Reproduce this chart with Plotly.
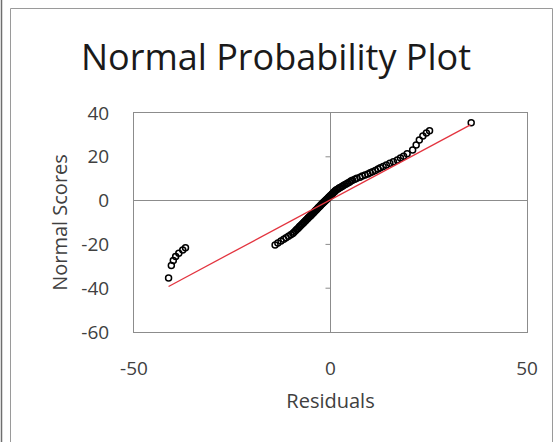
import plotly.graph_objects as go

# Residuals (x) and their normal scores (y), sorted ascending
residuals = [
    -41.2, -40.5, -40.0, -39.4, -38.6, -37.6, -36.9,
    -14.1, -13.4, -12.6, -11.9, -11.3, -10.7, -10.1, -9.6, -9.3, -8.9,
    -8.6, -8.3, -8.0, -7.8, -7.5, -7.2, -6.9, -6.7, -6.4, -6.2, -5.9,
    -5.7, -5.5, -5.2, -5.0, -4.8, -4.6, -4.4, -4.2, -4.0, -3.8, -3.6,
    -3.4, -3.2, -3.0, -2.8, -2.6, -2.4, -2.2, -2.0, -1.8, -1.6, -1.4,
    -1.2, -1.0, -0.8, -0.6, -0.4, -0.2, 0.0, 0.3, 0.4, 0.6, 0.8, 1.1,
    1.2, 1.5, 1.9, 2.2, 2.5, 2.9, 3.2, 3.6, 4.0, 4.4, 4.8, 5.2, 5.6,
    6.2, 6.7, 7.5, 8.1, 8.8, 9.5, 10.1, 10.7, 11.4, 12.1, 12.7, 13.4,
    14.2, 15.1, 16.0, 17.0, 17.8, 18.6, 19.5,
    20.9, 21.8, 22.6, 23.5, 24.4, 25.2, 35.8,
]
normal_scores = [
    -35.3, -29.6, -27.4, -25.5, -24.0, -22.5, -21.5,
    -20.3, -19.4, -18.5, -17.7, -17.0, -16.3, -15.6, -15.0, -14.4, -13.8,
    -13.2, -12.7, -12.2, -11.7, -11.2, -10.7, -10.2, -9.8, -9.3, -8.9, -8.4,
    -8.0, -7.6, -7.2, -6.8, -6.4, -6.0, -5.7, -5.3, -4.9, -4.5, -4.2,
    -3.8, -3.4, -3.0, -2.7, -2.3, -1.9, -1.6, -1.2, -0.9, -0.5, -0.2,
    0.2, 0.5, 0.9, 1.2, 1.6, 1.9, 2.3, 2.7, 3.0, 3.4, 3.8, 4.2,
    4.5, 4.9, 5.3, 5.7, 6.0, 6.4, 6.8, 7.2, 7.6, 8.0, 8.4, 8.9, 9.3,
    9.8, 10.2, 10.7, 11.2, 11.7, 12.2, 12.7, 13.2, 13.8, 14.4, 15.0, 15.6,
    16.3, 17.0, 17.7, 18.5, 19.4, 20.3, 21.4,
    23.1, 25.4, 27.7, 29.5, 30.9, 31.9, 35.6,
]

# Reference line endpoints
line_x = [-41.2, 35.6]
line_y = [-39.2, 34.6]

# Axis ticks (labels use a plain hyphen for negatives)
x_ticks = [-50, 0, 50]
x_tick_text = ["-50", "0", "50"]
y_ticks = [-60, -40, -20, 0, 20, 40]
y_tick_text = ["-60", "-40", "-20", "0", "20", "40"]
y_axis_marks = [-40, -20, 20]

FONT = "Open Sans"
GRAY = "#8c8c8c"
W, H = 557, 442
L, R, T, B = 134, 30, 113, 110
PW, PH = W - L - R, H - T - B


def px_x(p):
    return (p - L) / PW


def px_y(p):
    return (H - B - p) / PH


fig = go.Figure()
fig.add_trace(go.Scatter(
    x=residuals, y=normal_scores, mode="markers",
    marker=dict(symbol="circle-open", size=6, color="black",
                line=dict(width=1.5, color="black")),
    showlegend=False, hoverinfo="x+y",
))
fig.add_trace(go.Scatter(
    x=line_x, y=line_y, mode="lines",
    line=dict(color="#e3343f", width=1.3),
    showlegend=False, hoverinfo="skip",
))

shapes = []
# tick marks on the vertical axis at x = 0
for v in y_axis_marks:
    shapes.append(dict(type="line", xref="x", yref="y", xsizemode="pixel",
                       xanchor=0, x0=-5, x1=0, y0=v, y1=v,
                       line=dict(color=GRAY, width=1)))
# chart border
shapes.append(dict(type="rect", xref="paper", yref="paper",
                   x0=px_x(10.5), x1=px_x(552.5), y0=px_y(445), y1=px_y(8.5),
                   line=dict(color="#9a9a9a", width=1), fillcolor="rgba(0,0,0,0)",
                   layer="below"))
shapes.append(dict(type="line", xref="paper", yref="paper",
                   x0=px_x(1.5), x1=px_x(1.5), y0=px_y(445), y1=px_y(-2),
                   line=dict(color="#6e6e6e", width=1.5), layer="below"))

fig.update_layout(
    width=W, height=H,
    margin=dict(l=L, r=R, t=T, b=B, autoexpand=False),
    paper_bgcolor="white", plot_bgcolor="white",
    font=dict(family=FONT, color="#404040"),
    title=dict(text="Normal Probability Plot", xref="container", x=276 / W,
               xanchor="center", yref="container", y=1 - 57 / H,
               yanchor="middle", font=dict(family=FONT, size=36, color="#1a1a1a")),
    shapes=shapes,
    xaxis=dict(range=[-50, 50], tickvals=x_ticks, ticktext=x_tick_text,
               ticks="", showgrid=False,
               zeroline=True, zerolinecolor=GRAY, zerolinewidth=1,
               showline=True, mirror=True, linecolor=GRAY, linewidth=1,
               tickfont=dict(size=19, color="#404040"), ticklabelstandoff=19,
               title=dict(text="Residuals", font=dict(size=20, color="#404040"),
                          standoff=14)),
    yaxis=dict(range=[-60, 40], tickvals=y_ticks, ticktext=y_tick_text,
               ticks="", showgrid=False,
               zeroline=True, zerolinecolor=GRAY, zerolinewidth=1,
               showline=True, mirror=True, linecolor=GRAY, linewidth=1,
               tickfont=dict(size=19, color="#404040"), ticklabelstandoff=20,
               title=dict(text="Normal Scores", font=dict(size=20, color="#404040"),
                          standoff=8)),
)

fig.write_html("out.html")
